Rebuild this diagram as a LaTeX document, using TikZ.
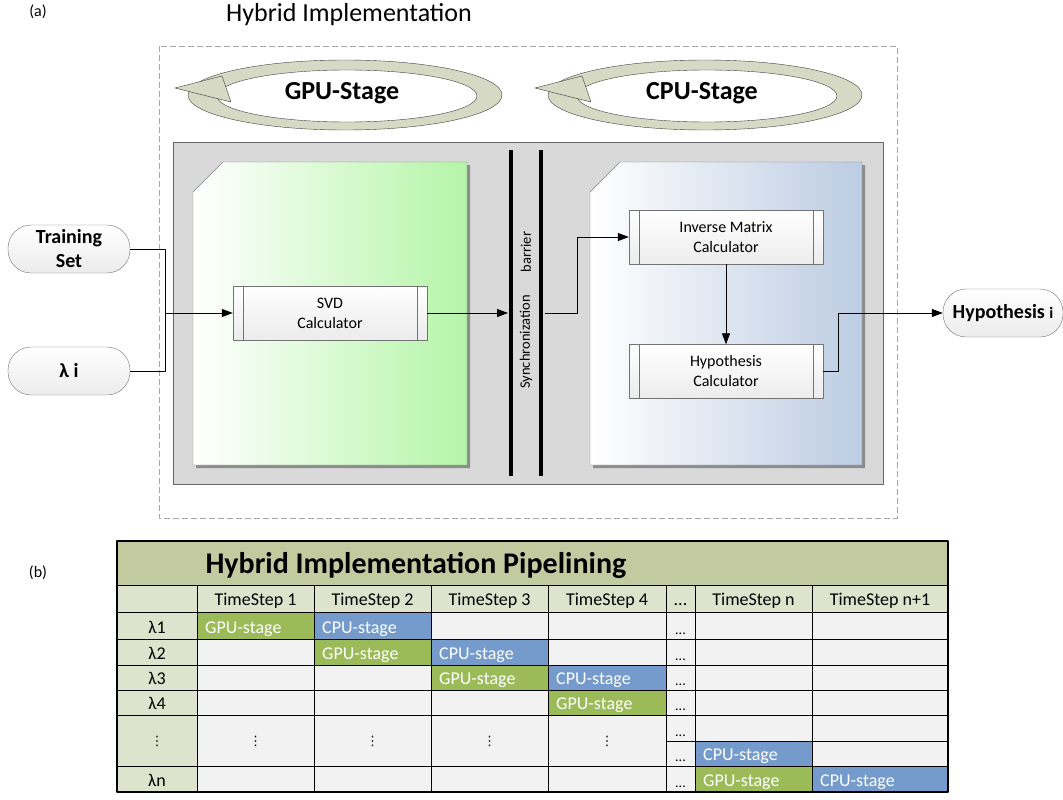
\documentclass[tikz,border=0pt]{standalone}
\usepackage{fontspec}
\setmainfont{Carlito}
\newfontfamily\symfont{DejaVu Sans}
\usetikzlibrary{arrows.meta,positioning}
\definecolor{ringcol}{RGB}{214,218,196}
\definecolor{boxgray}{RGB}{217,217,217}
\definecolor{greenpanel}{RGB}{181,245,168}
\definecolor{bluepanel}{RGB}{188,204,226}
\definecolor{tabtitle}{RGB}{196,202,160}
\definecolor{tabhead}{RGB}{222,227,205}
\definecolor{tabcell}{RGB}{242,242,242}
\definecolor{gpucol}{RGB}{155,187,89}
\definecolor{cpucol}{RGB}{116,155,203}
\newcommand\tabdots{...}
\tikzset{
  arr/.style={-{Triangle[length=11pt,width=8pt]}, line width=0.8pt},
  terminal/.style={draw=gray!90!black, rounded corners=23pt, top color=white, bottom color=gray!15,
    minimum width=122pt, minimum height=48pt, align=center, inner sep=2pt,
    font=\fontsize{20}{24}\selectfont\bfseries},
  procbox/.style={draw=gray!90!black, top color=white, bottom color=gray!15,
    minimum width=194pt, minimum height=54pt, align=center,
    font=\fontsize{16}{20}\selectfont,
    path picture={
      \draw[gray!90!black] ([xshift=10pt]path picture bounding box.north west) -- ([xshift=10pt]path picture bounding box.south west);
      \draw[gray!90!black] ([xshift=-10pt]path picture bounding box.north east) -- ([xshift=-10pt]path picture bounding box.south east);}},
  stagetxt/.style={anchor=base west, text=white, inner xsep=8pt, font=\fontsize{18}{20}\selectfont},
  celltxt/.style={anchor=base, font=\fontsize{18}{20}\selectfont},
  dotstxt/.style={anchor=base, font=\fontsize{14}{16}\selectfont},
}
\begin{document}
\begin{tikzpicture}[x=1pt, y=-1pt, line join=round]
  \useasboundingbox (0,0) rectangle (1063,800);
  % (a) hybrid implementation
  \node (lbla) at (38,12) {\fontsize{16}{18}\selectfont (a)};
  \node (title) at (349,15) {\fontsize{26}{30}\selectfont Hybrid Implementation};
  \draw[gray!70, dash pattern=on 6pt off 3pt] (159,46) rectangle (897,518);
  \foreach \cx/\txt/\nm in {345/GPU-Stage/gpust, 705/CPU-Stage/cpust} {
    \fill[ringcol, even odd rule] (\cx,95) ellipse [x radius=157, y radius=35]
      (\cx+2,96) ellipse [x radius=130, y radius=26];
    \draw[black!75] (\cx,95) ellipse [x radius=157, y radius=35];
    \draw[black!75] (\cx+2,96) ellipse [x radius=130, y radius=26];
    \filldraw[fill=ringcol, draw=black!75] (\cx-170,88) -- (\cx-123,76) -- (\cx-114,102) -- cycle;
    \node[font=\fontsize{26}{30}\selectfont\bfseries] (\nm) at (\cx-3,93) {\txt};
  }
  \filldraw[fill=boxgray, draw=black!60] (173,142) rectangle (883,484);
  % stage panels
  \fill[black!45] (196,195) -- (226,165) -- (470,165) -- (470,468) -- (196,468) -- cycle;
  \shade[left color=white, right color=greenpanel, draw=black!50] (193,192) -- (223,162) -- (467,162) -- (467,465) -- (193,465) -- cycle;
  \fill[black!45] (593,195) -- (623,165) -- (865,165) -- (865,468) -- (593,468) -- cycle;
  \shade[left color=white, right color=bluepanel, draw=black!50] (590,192) -- (620,162) -- (862,162) -- (862,465) -- (590,465) -- cycle;
  % barrier
  \draw[line width=3.5pt] (511,150) -- (511,476);
  \draw[line width=3.5pt] (541,150) -- (541,476);
  \node[rotate=90, font=\fontsize{14.5}{16}\selectfont] (sync) at (526,342) {Synchronization};
  \node[rotate=90, font=\fontsize{14.5}{16}\selectfont] (barr) at (526,252) {barrier};
  \coordinate (bl) at (508,313);
  \coordinate (br) at (545,313);
  % nodes
  \node[terminal] (train) at (69,249) {Training\\Set};
  \node[terminal] (lam) at (69,371) {λ i};
  \node[terminal, minimum width=120pt] (hyp) at (1003,313) {Hypothesis {\fontsize{16}{20}\selectfont i}};
  \node[procbox] (svd) at (330,313) {SVD\\Calculator};
  \node[procbox] (inv) at (726,237) {Inverse Matrix\\Calculator};
  \node[procbox] (hcalc) at (726,371.5) {Hypothesis\\Calculator};
  \coordinate (join) at (165,313);
  \draw[line width=0.8pt] (train.east) -| (join);
  \draw[line width=0.8pt] (lam.east) -| (join);
  \draw[arr] (join) -- (svd.west);
  \draw[arr] (svd.east) -- (bl);
  \draw[arr] (br) -- ++(32,0) |- (inv.west);
  \draw[arr] (inv.south) -- (hcalc.north);
  \draw[arr] (hcalc.east) -- ++(15,0) |- (hyp.west);
  % (b) pipelining table
  \node (lblb) at (38,573) {\fontsize{16}{18}\selectfont (b)};
  \fill[tabtitle] (117,541) rectangle (948,585);
  \fill[tabhead] (117,585) rectangle (948,612);
  \fill[tabhead] (117,612) rectangle (197,792);
  \fill[tabcell] (197,612) rectangle (948,792);
  \node[anchor=west, font=\fontsize{30}{34}\selectfont\bfseries] (ttitle) at (202,565) {Hybrid Implementation Pipelining};
  \foreach \xa/\xb/\ya/\yb/\kind/\col/\nm in {197/314/612/639/GPU/gpucol/a1, 314/431/612/639/CPU/cpucol/a2,
      314/431/639/665/GPU/gpucol/b2, 431/548/639/665/CPU/cpucol/b3, 431/548/665/690/GPU/gpucol/c3,
      548/666/665/690/CPU/cpucol/c4, 548/666/690/715/GPU/gpucol/d4, 695/812/741/766/CPU/cpucol/en,
      695/812/766/792/GPU/gpucol/fn, 812/948/766/792/CPU/cpucol/fm} {
    \fill[\col] (\xa,\ya) rectangle (\xb,\yb);
    \node[stagetxt] (\nm) at (\xa,\yb-6) {\kind-stage};
  }
  \foreach \y in {585,612,639,665,690,715,766}
    \draw (117,\y) -- (948,\y);
  \draw (666,741) -- (948,741);
  \foreach \x in {197,314,431,548,666,695,812}
    \draw (\x,585) -- (\x,792);
  \draw[line width=1.5pt] (117,541) rectangle (948,792);
  \foreach \x/\txt [count=\i] in {255.5/TimeStep 1, 372.5/TimeStep 2, 489.5/TimeStep 3, 607/TimeStep 4,
      680.5/\tabdots, 753.5/TimeStep n, 880/TimeStep n+1}
    \node[celltxt] (h\i) at (\x,605) {\txt};
  \foreach \y/\txt [count=\i] in {633/λ1, 659/λ2, 684/λ3, 709/λ4, 786/λn}
    \node[celltxt] (l\i) at (157,\y) {\txt};
  \foreach \x [count=\i] in {157,255.5,372.5,489.5,607}
    \node[font=\fontsize{13}{14}\symfont] (v\i) at (\x,741) {⋮};
  \foreach \y [count=\i] in {639,665,690,715,741,766,792}
    \node[dotstxt] (d\i) at (680.5,\y-5) {\tabdots};
\end{tikzpicture}
\end{document}
